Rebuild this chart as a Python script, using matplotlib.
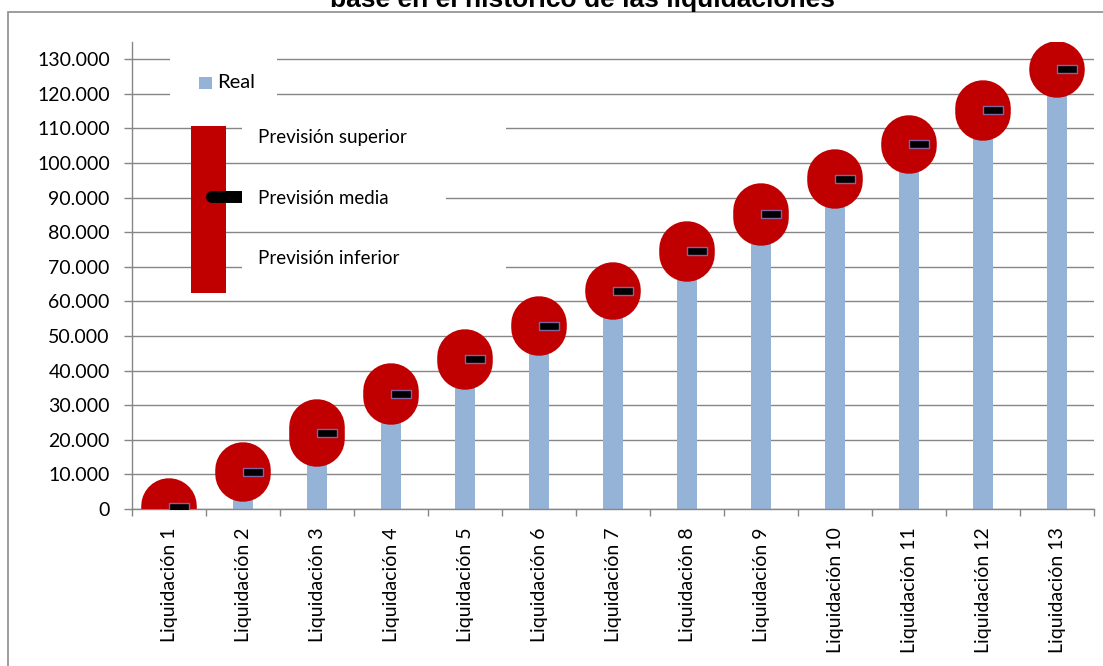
import matplotlib
matplotlib.use("Agg")
import matplotlib.pyplot as plt
import matplotlib.transforms as mtransforms
from matplotlib.patches import Rectangle
from matplotlib.lines import Line2D

categorias = ["Liquidación %d" % i for i in range(1, 14)]
real = [0, 10500, 21600, 32800, 43100, 53100, 63200, 74100, 84800, 95000, 105100, 115600, 126600]
prev_media = [500, 10700, 22000, 33200, 43300, 52900, 63000, 74500, 85200, 95300, 105400, 115200, 127100]
prev_sup = [800, 11400, 23700, 34100, 44000, 53600, 63400, 75200, 86200, 95900, 105800, 115900, 127300]
prev_inf = [200, 10000, 20300, 32400, 42600, 52200, 62600, 73800, 84200, 94700, 105000, 114500, 126900]
yticks = list(range(0, 130001, 10000))

W, H = 1103, 666
gris = "#868686"
rojo = "#C00000"
azul = "#95B3D7"
fuente = "Lato"


def fx(x):
    return x / W


def fy(y):
    return 1 - y / H


def caja(fig, x0, y0, x1, y1, color, z=1):
    fig.add_artist(Rectangle((fx(x0), fy(y1)), fx(x1) - fx(x0), fy(y0) - fy(y1),
                             transform=fig.transFigure, facecolor=color,
                             edgecolor="none", zorder=z))


fig = plt.figure(figsize=(W / 100, H / 100), dpi=100)
ax = fig.add_axes([fx(132), fy(509), fx(1094) - fx(132), fy(42) - fy(509)])

x = list(range(len(categorias)))
ax.bar(x, real, width=0.27, color=azul, zorder=2)
ax.vlines(x, prev_inf, prev_sup, colors=rojo, linewidth=40, capstyle="round", zorder=3)

marca = [(-1, -0.4), (1, -0.4), (1, 0.4), (-1, 0.4), (-1, -0.4)]
desplazado = mtransforms.offset_copy(ax.transData, fig=fig, x=10, y=0, units="dots")
ax.plot(x, prev_media, linestyle="none", marker=marca, markersize=15,
        markerfacecolor="black", markeredgecolor="#8064A2", markeredgewidth=1.0,
        transform=desplazado, zorder=4)

ax.set_xlim(-0.5, len(categorias) - 0.5)
ax.set_ylim(0, 135000)
ax.set_yticks(yticks)
ax.set_yticklabels([f"{v:,.0f}".replace(",", ".") for v in yticks],
                   fontfamily=fuente, fontsize=14)
ax.set_xticks(x)
ax.set_xticklabels(categorias, rotation=90, fontfamily=fuente, fontsize=14)
ax.set_xticks([i - 0.5 for i in range(len(categorias) + 1)], minor=True)
ax.tick_params(axis="x", which="major", length=0, pad=13)
ax.tick_params(axis="x", which="minor", length=5, color=gris, width=1)
ax.tick_params(axis="y", length=6, color=gris, width=1, pad=10)

ax.grid(axis="y", color=gris, linewidth=1.0)
ax.set_axisbelow(True)
for s in ["top", "right"]:
    ax.spines[s].set_visible(False)
for s in ["left", "bottom"]:
    ax.spines[s].set_color(gris)
    ax.spines[s].set_linewidth(1.0)

# marco del grafico
fig.add_artist(Rectangle((fx(8), fy(700)), fx(1200) - fx(8), fy(12) - fy(700),
                         transform=fig.transFigure, facecolor="none",
                         edgecolor="#8c8c8c", linewidth=1.2, zorder=0.5))

# titulo (cortado arriba, como en la imagen)
fig.text(fx(582), fy(6.5), "base en el histórico de las liquidaciones",
         ha="center", va="baseline", fontsize=19, fontweight="bold",
         fontfamily="Liberation Sans")

# leyenda Real
caja(fig, 170, 52, 277, 105, "white")
caja(fig, 199, 77, 212, 89, azul, 2)
fig.text(fx(217), fy(83), "Real", ha="left", va="center", fontsize=14.5, fontfamily=fuente)

# leyenda previsiones
caja(fig, 191, 126, 226, 293, rojo, 1)
fig.add_artist(Line2D([fx(212), fx(248)], [fy(197), fy(197)], transform=fig.transFigure,
                      color="black", linewidth=8.6, solid_capstyle="round", zorder=1.5))
caja(fig, 242, 112, 506, 150, "white", 2)
caja(fig, 242, 182, 446, 215, "white", 2)
caja(fig, 242, 245, 506, 282, "white", 2)
for texto, yy in [("Previsión superior", 137), ("Previsión media", 198), ("Previsión inferior", 258)]:
    fig.text(fx(258), fy(yy), texto, ha="left", va="center", fontsize=13.5, fontfamily=fuente)

fig.savefig("out.png", dpi=100)
